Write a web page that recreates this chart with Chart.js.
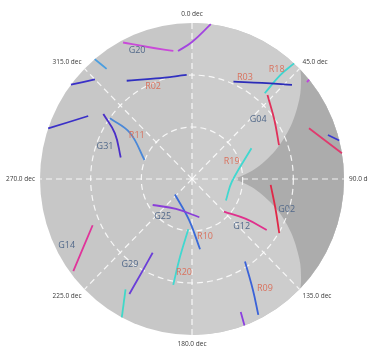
<!DOCTYPE html>
<html>
<head>
<meta charset="utf-8">
<script src="https://cdn.jsdelivr.net/npm/chart.js@4/dist/chart.umd.min.js"></script>
<style>
  html, body { margin: 0; padding: 0; background: #ffffff; }
  #wrap { width: 368px; height: 346px; }
</style>
</head>
<body>
<div id="wrap"><canvas id="sky" width="368" height="346"></canvas></div>
<script>
// Satellite passes: azimuth (deg, clockwise from north) and elevation (deg) along each track
const trackAz = [
  [332.6, 341.1, 351.5], [353.6, 0.0, 7.1], [320.2, 321.5], [307.2, 315.0],
  [325.7, 339.8, 357.0], [288.9, 300.6], [305.5, 300.0, 286.4], [305.8, 305.9, 291.3],
  [23.6, 36.8, 47.5], [42.2, 41.1, 41.05], [42.7, 55.1, 69.2], [50.4, 50.6],
  [67.1, 80.5], [72.5, 75.7], [63.3, 93.5, 121.6], [94.2, 109.3, 121.2],
  [134.9, 125.8, 123.6], [237.2, 208.7, 168.9], [228.4, 184.3, 173.3], [184.3, 189.0, 190.3],
  [245.6, 232.9], [208.7, 208.9, 209.2], [211.7, 207.5], [146.6, 150.6, 153.4], [159.4, 159.8]
];
const trackEl = [
  [1.3, 9.5, 15.3], [15.7, 11.0, 0], [0, 8.8], [0, 8.7],
  [21.4, 28.2, 29.9], [0, 18.6], [25.5, 37.3, 46.0], [30.1, 44.7, 59.8],
  [28.7, 20.8, 9.7], [0, 10.3, 24.4], [24.1, 30.5, 34.9], [0, 1.9],
  [14.8, 0], [5.6, 0], [50.6, 66.3, 66.4], [43.3, 37.6, 29.6],
  [63.3, 50.6, 36.9], [62.3, 70.3, 67.5], [76.5, 66.3, 49.2], [60.9, 44.4, 27.9],
  [25.4, 1.9], [41.5, 30.3, 14.0], [15.1, 0], [33.0, 16.5, 2.3], [8.0, 0]
];
const trackColors = [
  '#c94ad8', '#a244e0', '#4a9ee0', '#3a30c8',
  '#3030c0', '#3a30c8', '#4a2ec8', '#4a88d8',
  '#2c2cb8', '#3ed6d0', '#e0305a', '#c040e0',
  '#e03a6e', '#3a3ad0', '#40d8d0', '#e02848',
  '#e0308c', '#8a3ed8', '#3a6ad8', '#40d8d0',
  '#e0349a', '#6a3ed8', '#40d8c8', '#3a62d8', '#8a3ee0'
];

// Satellite identifiers placed beside their tracks
const labelText = ['G20', 'R02', 'G31', 'R11', 'R03', 'R18', 'G04', 'R19', 'G02', 'G12', 'G25', 'R10', 'R20', 'G14', 'G29', 'R09'];
const labelAz = [336.4, 336.6, 290.3, 307.8, 28.1, 38.4, 48.7, 67.0, 107.3, 132.7, 218.6, 166.8, 185.0, 242.8, 216.8, 145.6];
const labelEl = [8.8, 32.0, 35.1, 48.6, 23.5, 9.3, 37.8, 64.5, 31.3, 50.0, 62.2, 56.2, 35.7, 6.6, 28.7, 13.6];

// Obstruction mask outline (az/el), upper and lower branches meeting at the cusp
const maskUpperAz = [45.5, 48.5, 54.0, 62.4, 71.4, 81.4, 90];
const maskUpperEl = [0, 3.8, 11.4, 24.0, 37.8, 52.6, 65];
const maskLowerAz = [90, 98.6, 108.6, 117.6, 126.0, 131.5, 134.5];
const maskLowerEl = [65, 52.6, 37.8, 24.0, 11.4, 3.8, 0];

// Grid
const azimuthTicks = [0, 45, 90, 135, 180, 225, 270, 315];
const elevationRings = [30, 60];

const RAD = Math.PI / 180;
function project(az, el) {
  const r = 90 - el;
  return { x: r * Math.sin(az * RAD), y: r * Math.cos(az * RAD) };
}
function toPixel(chart, az, el) {
  const p = project(az, el);
  return [chart.scales.x.getPixelForValue(p.x), chart.scales.y.getPixelForValue(p.y)];
}

function splineThrough(ctx, pts, moveFirst) {
  if (moveFirst) ctx.moveTo(pts[0][0], pts[0][1]); else ctx.lineTo(pts[0][0], pts[0][1]);
  for (let i = 0; i < pts.length - 1; i++) {
    const p0 = pts[Math.max(i - 1, 0)], p1 = pts[i], p2 = pts[i + 1], p3 = pts[Math.min(i + 2, pts.length - 1)];
    const c1 = [p1[0] + (p2[0] - p0[0]) / 6, p1[1] + (p2[1] - p0[1]) / 6];
    const c2 = [p2[0] - (p3[0] - p1[0]) / 6, p2[1] - (p3[1] - p1[1]) / 6];
    ctx.bezierCurveTo(c1[0], c1[1], c2[0], c2[1], p2[0], p2[1]);
  }
}

const skyBackground = {
  id: 'skyBackground',
  beforeDatasetsDraw(chart) {
    const ctx = chart.ctx;
    const xs = chart.scales.x, ys = chart.scales.y;
    const cx = xs.getPixelForValue(0), cy = ys.getPixelForValue(0);
    const rx = xs.getPixelForValue(90) - cx, ry = cy - ys.getPixelForValue(90);
    ctx.save();
    // horizon disc
    ctx.fillStyle = '#c7c7c7';
    ctx.beginPath();
    ctx.ellipse(cx, cy, rx, ry, 0, 0, Math.PI * 2);
    ctx.fill();
    // eastern half of the sky, slightly lighter
    ctx.fillStyle = '#cdcdcd';
    ctx.beginPath();
    ctx.moveTo(cx, cy);
    ctx.ellipse(cx, cy, rx, ry, 0, -Math.PI / 2, Math.PI / 2, false);
    ctx.closePath();
    ctx.fill();

    // obstruction mask
    const upper = maskUpperAz.map((a, i) => toPixel(chart, a, maskUpperEl[i]));
    const lower = maskLowerAz.map((a, i) => toPixel(chart, a, maskLowerEl[i]));
    ctx.fillStyle = '#acacac';
    ctx.beginPath();
    splineThrough(ctx, upper, true);
    splineThrough(ctx, lower, false);
    const tEnd = (maskLowerAz[maskLowerAz.length - 1] - 90) * RAD;
    const tStart = (maskUpperAz[0] - 90) * RAD;
    ctx.ellipse(cx, cy, rx, ry, 0, tEnd, tStart, true);
    ctx.closePath();
    ctx.fill();

    // dashed elevation rings and azimuth spokes
    ctx.strokeStyle = 'rgba(255,255,255,0.85)';
    ctx.lineWidth = 1.2;
    ctx.setLineDash([6, 4]);
    elevationRings.forEach(el => {
      const f = (90 - el) / 90;
      ctx.beginPath();
      ctx.ellipse(cx, cy, rx * f, ry * f, 0, 0, Math.PI * 2);
      ctx.stroke();
    });
    azimuthTicks.forEach(az => {
      const p = toPixel(chart, az, 0);
      ctx.beginPath();
      ctx.moveTo(cx, cy);
      ctx.lineTo(p[0], p[1]);
      ctx.stroke();
    });
    ctx.setLineDash([]);

    // azimuth tick labels outside the horizon
    ctx.font = '6.5px "Open Sans", sans-serif';
    ctx.fillStyle = '#3a3a3a';
    ctx.textBaseline = 'middle';
    azimuthTicks.forEach(az => {
      const s = Math.sin(az * RAD), c = Math.cos(az * RAD);
      const px = cx + (rx + 7) * s, py = cy - (ry + 9) * c;
      ctx.textAlign = s > 0.3 ? 'left' : (s < -0.3 ? 'right' : 'center');
      ctx.fillText(az.toFixed(1) + ' dec', px + (s > 0.3 ? -2 : (s < -0.3 ? 2 : 0)), py);
    });
    ctx.restore();
  },
  afterDatasetsDraw(chart) {
    const ctx = chart.ctx;
    ctx.save();
    ctx.font = '9px "Open Sans", sans-serif';
    ctx.textAlign = 'center';
    ctx.textBaseline = 'middle';
    labelText.forEach((t, i) => {
      const p = toPixel(chart, labelAz[i], labelEl[i]);
      ctx.fillStyle = t.charAt(0) === 'G' ? '#52698a' : '#d9725e';
      ctx.fillText(t, p[0], p[1]);
    });
    ctx.restore();
  }
};

const datasets = trackAz.map((azs, i) => ({
  data: azs.map((a, j) => project(a, trackEl[i][j])),
  showLine: true,
  borderColor: trackColors[i],
  borderWidth: 1.8,
  pointRadius: 0,
  tension: 0.4,
  fill: false
}));

new Chart(document.getElementById('sky'), {
  type: 'scatter',
  data: { datasets },
  options: {
    responsive: false,
    animation: false,
    layout: { padding: { left: 40, right: 24, top: 23, bottom: 11 } },
    plugins: { legend: { display: false }, tooltip: { enabled: false } },
    scales: {
      x: { type: 'linear', min: -90, max: 90, display: false },
      y: { type: 'linear', min: -90, max: 90, display: false }
    }
  },
  plugins: [skyBackground]
});
</script>
</body>
</html>
